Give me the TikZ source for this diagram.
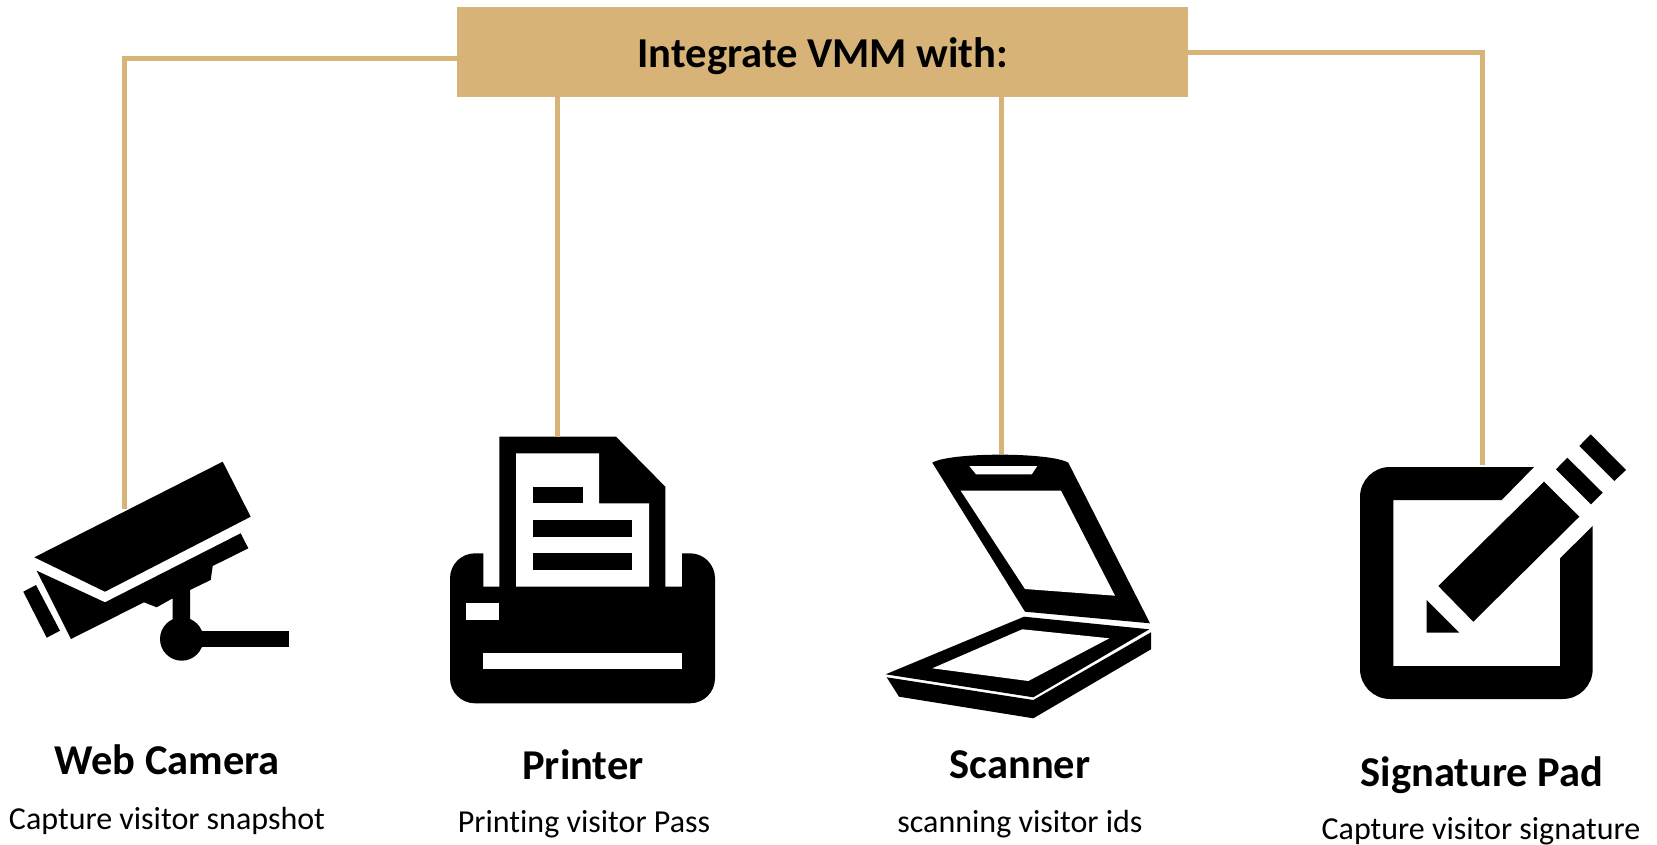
\documentclass[tikz,border=0pt]{standalone}
\usepackage{fontspec}
\setmainfont{Carlito}[Ligatures={NoCommon}]
\definecolor{vmmgold}{HTML}{D7B377}
\tikzset{
  icon/.style={fill=black,draw=none},
  hole/.style={fill=white,draw=none},
  link/.style={draw=vmmgold,line width=5pt,shorten <=-2pt},
  banner/.style={fill=vmmgold,minimum width=731.5pt,minimum height=89.6pt,inner sep=0pt,font=\fontsize{42.6}{48}\selectfont\bfseries},
  devname/.style={inner sep=0pt,font=\fontsize{42.5}{48}\selectfont\bfseries},
  devtext/.style={inner sep=0pt,font=\fontsize{32}{38}\selectfont}
}
\begin{document}
\begin{tikzpicture}[x=1pt,y=-1pt]
  \useasboundingbox (0,0) rectangle (1657,845);
  % web camera
  \fill[icon] (34.3,557.3) -- (222.7,461.7) -- (250.7,516.7) -- (105,591.7) -- cycle;
  \fill[icon] (36.7,570.7) -- (105,602.3) -- (240.7,533.3) -- (248.3,548.3) -- (212.7,566)
    -- (210.7,580) -- (190,590) -- (190,620) -- (172.7,620) -- (172.7,598.3) -- (156.7,607.3)
    -- (144,602.3) -- (71,639) -- cycle;
  \fill[icon] (23.3,591.7) -- (36,585) -- (60,630.7) -- (46.7,637.7) -- cycle;
  \fill[icon] (181.7,639) circle (21.7);
  \fill[icon] (195,630.7) rectangle (289,647.3);
  % printer
  \fill[icon] (483.3,553.3) [rounded corners=25pt] -- (450,553.3) -- (450,703.3) -- (715,703.3) -- (715,553.3)
    [sharp corners] -- (682,553.3) -- (682,586.7) -- (665.3,586.7) -- (665.3,486.7) -- (616,436.7)
    -- (499.3,436.7) -- (499.3,586.7) -- (483.3,586.7) -- cycle;
  \fill[hole] (516,453.3) -- (599,453.3) -- (599,503.3) -- (649,503.3) -- (649,586.7) -- (516,586.7) -- cycle;
  \fill[icon] (532.7,486.7) rectangle (582.7,503.3);
  \fill[icon] (532.7,520) rectangle (632.3,536.7);
  \fill[icon] (532.7,553.3) rectangle (632.3,570);
  \fill[hole] (466,603.3) rectangle (499.3,620);
  \fill[hole] (482.7,652.7) rectangle (682,669.3);
  % scanner
  \fill[icon] (932.3,462.7) .. controls (950,452) and (1050,452) .. (1068.3,462.7)
    -- (1150,623.3) -- (1025,611.7) -- cycle;
  \fill[hole] (960.7,490.7) -- (1061,490.7) -- (1115,595.7) -- (1025,589) -- cycle;
  \fill[hole] (969.3,466) -- (1037.3,466) -- (1031.7,474.3) -- (976,474.3) -- cycle;
  \fill[icon] (885.7,674.3) -- (1024,616.7) -- (1149.3,629.3) -- (1033.3,697.3) -- cycle;
  \fill[hole] (932.3,668.3) -- (1022.3,629.3) -- (1109.3,638.3) -- (1028.3,681) -- cycle;
  \fill[icon] (886.7,677.3) -- (1033.3,700) -- (1151,632.3) -- (1151,649.3) -- (1033.3,718.3) -- (899,696.7) -- cycle;
  % signature pad
  \fill[icon] (1534,467) [rounded corners=30pt] -- (1360,467) -- (1360,699) -- (1592.7,699) [sharp corners]
    -- (1592.7,526) -- (1560,558.3) -- (1560,666) -- (1393.3,666) -- (1393.3,500) -- (1501.7,500) -- cycle;
  \fill[icon] (1544,481.7) -- (1579.3,516.7) -- (1473.3,621.7) -- (1438.3,586) -- cycle;
  \fill[icon] (1426.7,600) -- (1459.3,632.7) -- (1426.7,632.7) -- cycle;
  \fill[icon] (1567.3,457.7) -- (1602.7,492.7) -- (1591,504.3) -- (1556,469.3) -- cycle;
  \fill[icon] (1590.7,434.3) -- (1626,470) -- (1614.3,481) -- (1579.3,446) -- cycle;
  % header and free ends of the links
  \node[banner] (vmm) at (822.4,52.2) {\hspace*{1pt}\raisebox{-15.5pt}[0pt][0pt]{Integrate VMM with:}};
  \coordinate (camera) at (124.7,509);
  \coordinate (printer) at (557,437);
  \coordinate (scanner) at (1001.7,454);
  \coordinate (pad) at (1482.3,465);
  \coordinate (vmmleft) at (vmm.west |- 0,58.7);
  % links
  \draw[link] (vmmleft) -| (camera);
  \draw[link] (vmm.south -| printer) -- (printer);
  \draw[link] (vmm.south -| scanner) -- (scanner);
  \draw[link] (vmm.east) -| (pad);
  % labels
  \node[devname] (cameraname) at (167,760) {Web Camera};
  \node[devtext] (cameratext) at (167,821) {Capture visitor snapshot};
  \node[devname] (printername) at (583,765) {Printer};
  \node[devtext] (printertext) at (584,824) {Printing visitor Pass};
  \node[devname] (scannername) at (1020,765) {Scanner};
  \node[devtext] (scannertext) at (1020,824) {scanning visitor ids};
  \node[devname] (padname) at (1482,775) {Signature Pad};
  \node[devtext] (padtext) at (1481,831) {Capture visitor signature};
\end{tikzpicture}
\end{document}
